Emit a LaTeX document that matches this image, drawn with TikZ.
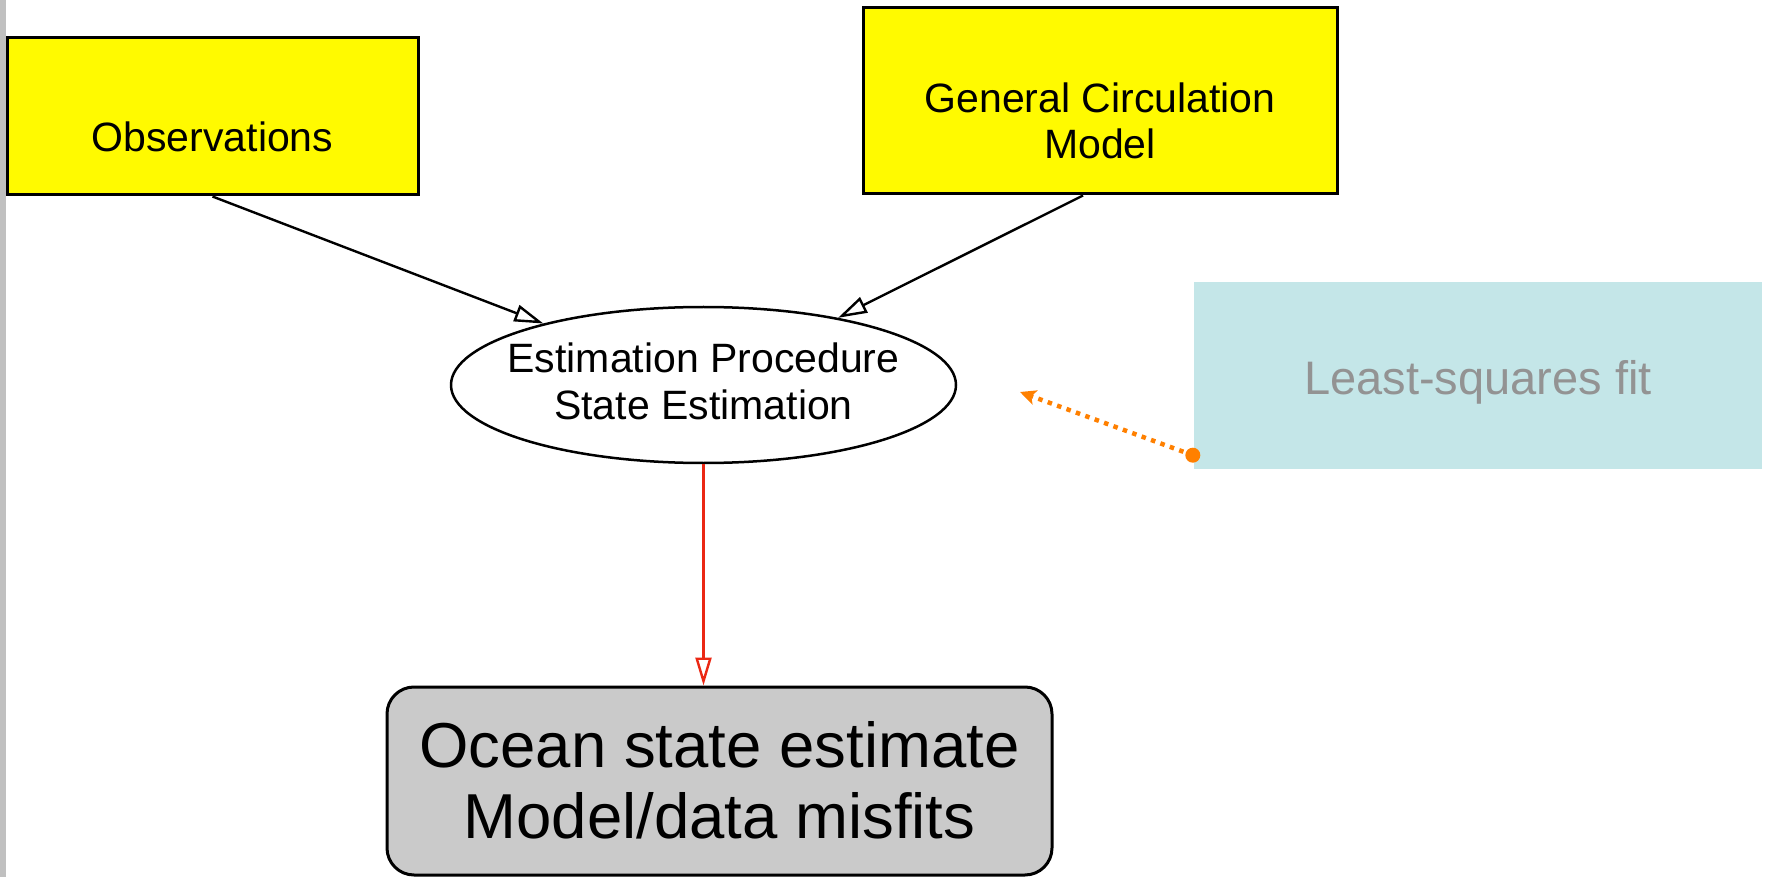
\documentclass[tikz,border=0pt]{standalone}
\usepackage{fontspec}
\setmainfont{Liberation Sans}
\usetikzlibrary{arrows.meta,shapes.geometric}
\definecolor{boxyellow}{RGB}{255,250,0}
\definecolor{lsqblue}{RGB}{196,230,232}
\definecolor{lsqgray}{RGB}{147,147,147}
\definecolor{oceangray}{RGB}{202,202,202}
\definecolor{barcol}{RGB}{192,192,192}
\definecolor{arrred}{RGB}{235,40,20}
\definecolor{arrorange}{RGB}{255,128,0}
\begin{document}
\begin{tikzpicture}[x=1pt,y=-1pt,
  ybox/.style={draw=black, line width=3pt, fill=boxyellow, inner sep=0pt},
  estshape/.style={ellipse, draw=black, line width=2.5pt, fill=white, inner sep=0pt,
    minimum width=505pt, minimum height=156pt},
  lsqbox/.style={fill=lsqblue, inner sep=0pt, minimum width=568pt, minimum height=187pt},
  oceanbox/.style={draw=black, line width=3pt, fill=oceangray, rounded corners=27pt,
    inner sep=0pt, minimum width=665pt, minimum height=188pt},
  txt/.style={inner sep=0pt, align=center, font=\fontsize{41}{46}\selectfont},
  blkarrow/.style={draw=black, line width=2.4pt, -{Triangle[length=29pt,width=17pt,fill=white]}},
  redarrow/.style={draw=arrred, line width=3pt, -{Triangle[length=28pt,width=16pt,fill=white,line width=2.4pt]}},
  orngarrow/.style={draw=arrorange, line width=4.5pt, dash pattern=on 4.5pt off 5.5pt,
    -{Stealth[length=16pt,width=15pt,inset=4pt]}},
]
\useasboundingbox (0,0) rectangle (1765,877);
\fill[white] (0,0) rectangle (1765,877);
\fill[barcol] (0,0) rectangle (6,877);

% shapes
\node[ybox, minimum width=411pt, minimum height=157pt] (obs) at (212.5,116.5) {};
\node[ybox, minimum width=474pt, minimum height=186pt] (gcm) at (1100,101) {};
\node[estshape] (est) at (703.5,385) {};
\node[lsqbox] (lsq) at (1478,375.5) {};
\node[oceanbox] (ocean) at (719.5,781) {};

% texts
\node[txt, anchor=base] (obsT) at ([yshift=-35.5pt]obs.center) {Observations};
\node[txt] (gcmT) at ([yshift=-20pt]gcm.center) {General Circulation\\Model};
\node[txt, font=\fontsize{41}{47}\selectfont] (estT) at ([yshift=3.5pt]est.center)
  {Estimation Procedure\\State Estimation};
\node[txt, anchor=base, text=lsqgray, font=\fontsize{47}{56}\selectfont] (lsqT)
  at ([yshift=-19.5pt]lsq.center) {Least-squares fit};
\node[txt, font=\fontsize{63.5}{71}\selectfont] (oceanT) at ([yshift=1pt]ocean.center)
  {Ocean state estimate\\Model/data misfits};

% connectors
\draw[blkarrow] (obs.south) -- (est);
\draw[blkarrow] ([xshift=-17pt]gcm.south) -- (est);
\draw[redarrow] (est.south) -- (est.south |- ocean.north);
\coordinate (lsqdot) at ([xshift=-1pt,yshift=14pt]lsq.south west);
\coordinate (lsqtip) at (1020,392);
\draw[orngarrow] (lsqdot) -- (lsqtip);
\fill[arrorange] (lsqdot) circle (7.5pt);
\end{tikzpicture}
\end{document}
